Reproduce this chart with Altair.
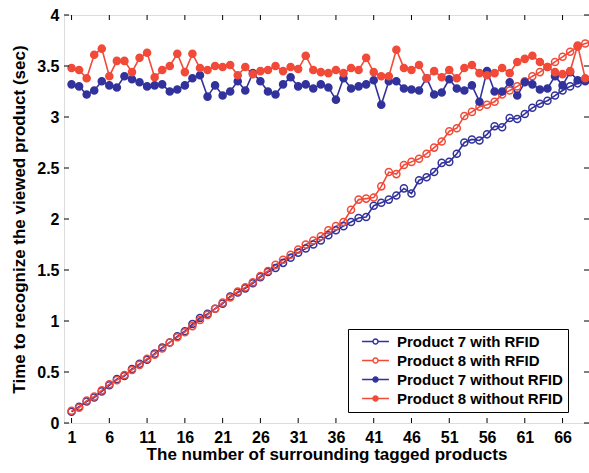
import altair as alt
import pandas as pd

series_names = ["Product 7 with RFID", "Product 8 with RFID",
                "Product 7 without RFID", "Product 8 without RFID"]
x_vals = list(range(1, 71))

p7_rfid = [0.11, 0.16, 0.21, 0.25, 0.31, 0.37, 0.43, 0.46, 0.53, 0.58,
           0.62, 0.68, 0.74, 0.79, 0.85, 0.90, 0.97, 1.03, 1.07, 1.12,
           1.17, 1.24, 1.28, 1.32, 1.37, 1.43, 1.48, 1.52, 1.57, 1.62,
           1.67, 1.71, 1.75, 1.79, 1.84, 1.89, 1.93, 1.97, 2.01, 2.02,
           2.13, 2.16, 2.19, 2.23, 2.30, 2.25, 2.38, 2.41, 2.46, 2.55,
           2.56, 2.64, 2.75, 2.78, 2.77, 2.83, 2.91, 2.90, 2.99, 2.98,
           3.03, 3.09, 3.13, 3.16, 3.21, 3.26, 3.30, 3.33, 3.35, 3.36]
p8_rfid = [0.12, 0.15, 0.22, 0.26, 0.32, 0.38, 0.42, 0.47, 0.52, 0.57,
           0.63, 0.67, 0.73, 0.79, 0.84, 0.89, 0.95, 1.01, 1.06, 1.12,
           1.18, 1.23, 1.29, 1.33, 1.38, 1.44, 1.49, 1.55, 1.60, 1.65,
           1.70, 1.75, 1.79, 1.83, 1.89, 1.93, 1.97, 2.09, 2.19, 2.20,
           2.21, 2.32, 2.46, 2.44, 2.53, 2.56, 2.59, 2.64, 2.70, 2.76,
           2.86, 2.89, 3.01, 3.05, 3.10, 3.12, 3.15, 3.22, 3.26, 3.30,
           3.35, 3.40, 3.44, 3.49, 3.54, 3.59, 3.64, 3.69, 3.72, 3.74]
p7_no = [3.32, 3.30, 3.22, 3.26, 3.35, 3.31, 3.29, 3.40, 3.37, 3.34,
         3.30, 3.31, 3.32, 3.25, 3.27, 3.31, 3.38, 3.41, 3.20, 3.31,
         3.21, 3.25, 3.35, 3.26, 3.43, 3.35, 3.25, 3.22, 3.32, 3.39,
         3.30, 3.32, 3.28, 3.32, 3.29, 3.17, 3.38, 3.28, 3.30, 3.32,
         3.36, 3.12, 3.35, 3.35, 3.28, 3.27, 3.26, 3.38, 3.22, 3.24,
         3.37, 3.28, 3.26, 3.31, 3.15, 3.45, 3.25, 3.25, 3.34, 3.21,
         3.34, 3.32, 3.27, 3.28, 3.40, 3.31, 3.44, 3.36, 3.36, 3.34]
p8_no = [3.48, 3.46, 3.38, 3.61, 3.67, 3.40, 3.55, 3.55, 3.44, 3.58,
         3.63, 3.39, 3.46, 3.50, 3.62, 3.44, 3.62, 3.48, 3.46, 3.50,
         3.49, 3.51, 3.41, 3.49, 3.42, 3.45, 3.46, 3.50, 3.45, 3.49,
         3.47, 3.60, 3.46, 3.44, 3.43, 3.46, 3.43, 3.48, 3.46, 3.58,
         3.44, 3.40, 3.40, 3.66, 3.48, 3.46, 3.51, 3.38, 3.45, 3.39,
         3.46, 3.38, 3.48, 3.51, 3.43, 3.41, 3.43, 3.48, 3.43, 3.54,
         3.57, 3.60, 3.54, 3.49, 3.44, 3.42, 3.45, 3.70, 3.38, 3.38]

x_ticks = [1, 6, 11, 16, 21, 26, 31, 36, 41, 46, 51, 56, 61, 66]
y_ticks = [0, 0.5, 1, 1.5, 2, 2.5, 3, 3.5, 4]

BLUE = "#32329c"
RED = "#f24a38"
FONT = "Liberation Sans"
W, H = 525, 408

rows = []
for name, vals in zip(series_names, [p7_rfid, p8_rfid, p7_no, p8_no]):
    for xv, yv in zip(x_vals, vals):
        rows.append({"x": xv, "y": yv, "series": name})
df = pd.DataFrame(rows)

xscale = alt.Scale(domain=[0, 69.5], nice=False, zero=False)
yscale = alt.Scale(domain=[0, 4], nice=False)
cscale = alt.Scale(domain=series_names, range=[BLUE, RED, BLUE, RED])
fscale = alt.Scale(domain=series_names, range=["transparent", "transparent", BLUE, RED])
sscale = alt.Scale(domain=series_names, range=[50, 50, 28, 28])

legend_path = "M-3.8,0H-0.7M0.7,0H3.8M0.7,0A0.7,0.7,0,1,1,-0.7,0A0.7,0.7,0,1,1,0.7,0Z"

legend = alt.Legend(
    title=None, orient="none", legendX=284, legendY=314,
    symbolType=legend_path, symbolSize=100, symbolStrokeWidth=1.5,
    symbolOffset=15, labelOffset=14, labelLimit=400,
    labelFont=FONT, labelFontSize=15, labelFontWeight="bold", labelColor="black",
    strokeColor="black", fillColor="white", padding=5, rowPadding=3,
)

xaxis = alt.Axis(
    values=x_ticks, title="The number of surrounding tagged products",
    grid=False, ticks=False, domain=False, labelPadding=6,
    labelFont=FONT, labelFontSize=16, labelFontWeight="bold", labelColor="black",
    titleFont=FONT, titleFontSize=17, titleFontWeight="bold", titleColor="black",
    titlePadding=1)
yaxis = alt.Axis(
    values=y_ticks, format="~g", title="Time to recognize the viewed product (sec)",
    grid=False, ticks=False, domain=False, labelPadding=5,
    labelFont=FONT, labelFontSize=16, labelFontWeight="bold", labelColor="black",
    titleFont=FONT, titleFontSize=17, titleFontWeight="bold", titleColor="black",
    titlePadding=8)

base = alt.Chart(df)
lines = base.mark_line(strokeWidth=1.6, clip=True).encode(
    x=alt.X("x:Q", scale=xscale, axis=xaxis),
    y=alt.Y("y:Q", scale=yscale, axis=yaxis),
    color=alt.Color("series:N", scale=cscale, legend=legend, sort=series_names),
    detail="series:N",
)
points = base.mark_point(filled=False, strokeWidth=1.5, clip=True, opacity=1).encode(
    x=alt.X("x:Q", scale=xscale, axis=xaxis),
    y=alt.Y("y:Q", scale=yscale, axis=yaxis),
    color=alt.Color("series:N", scale=cscale, legend=legend, sort=series_names),
    fill=alt.Fill("series:N", scale=fscale, legend=legend, sort=series_names),
    size=alt.Size("series:N", scale=sscale, legend=None),
)

xt = pd.DataFrame({"t": x_ticks})
yt = pd.DataFrame({"t": y_ticks})
tick_bottom = alt.Chart(xt).mark_rule(color="black", strokeWidth=1).encode(
    x=alt.X("t:Q", scale=xscale, axis=xaxis), y=alt.value(H), y2=alt.value(H - 5))
tick_top = alt.Chart(xt).mark_rule(color="black", strokeWidth=1).encode(
    x=alt.X("t:Q", scale=xscale, axis=xaxis), y=alt.value(0), y2=alt.value(5))
tick_left = alt.Chart(yt).mark_rule(color="black", strokeWidth=1).encode(
    y=alt.Y("t:Q", scale=yscale, axis=yaxis), x=alt.value(0), x2=alt.value(5))
tick_right = alt.Chart(yt).mark_rule(color="black", strokeWidth=1).encode(
    y=alt.Y("t:Q", scale=yscale, axis=yaxis), x=alt.value(W), x2=alt.value(W - 5))

chart = alt.layer(lines, points, tick_bottom, tick_top, tick_left, tick_right).properties(
    width=W, height=H,
    autosize=alt.AutoSizeParams(type="none"),
    padding={"left": 64, "top": 15, "right": 0, "bottom": 50},
).configure_view(stroke="black", strokeWidth=1.2).configure(background="white")

chart.save("out.html", embed_options={"renderer": "svg", "actions": False})
